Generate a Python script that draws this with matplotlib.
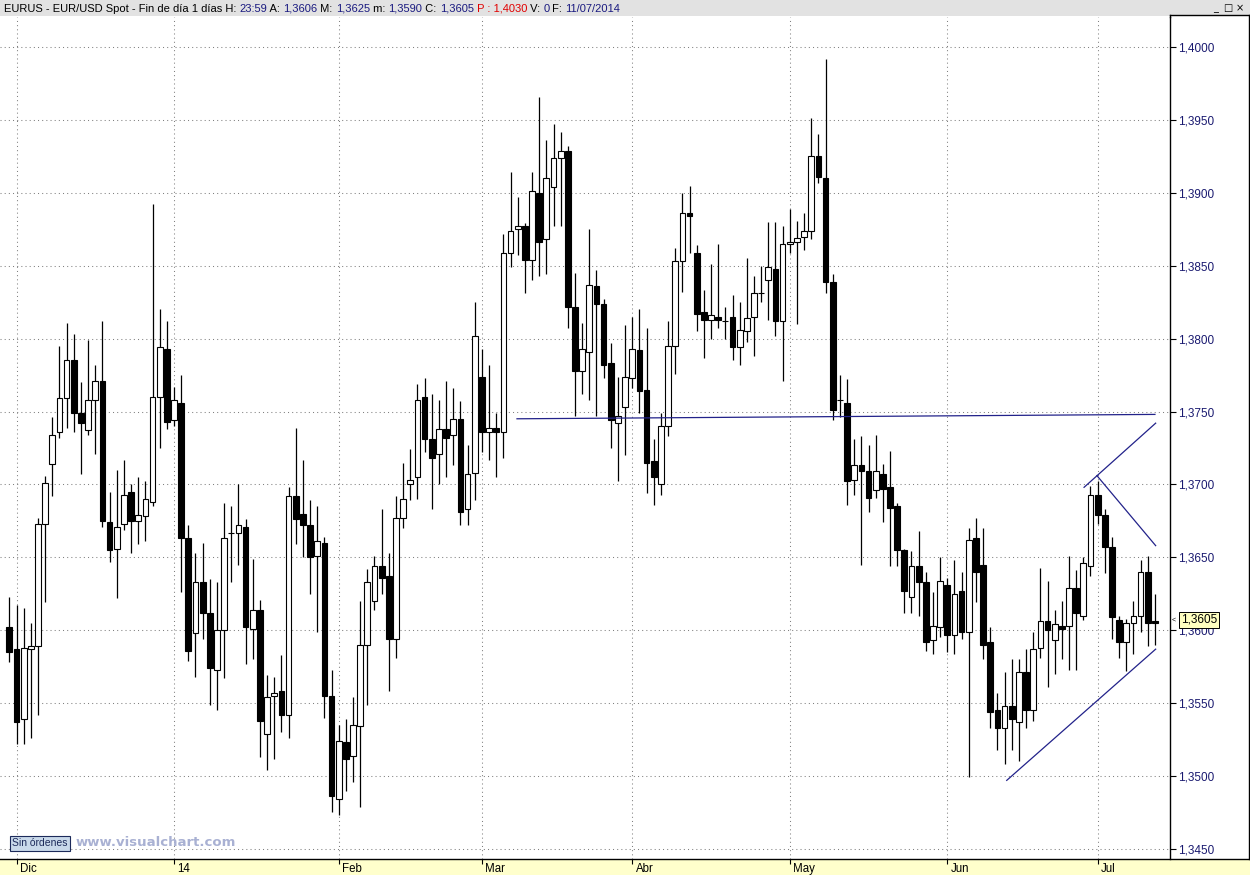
import numpy as np
import pandas as pd
import matplotlib
matplotlib.use('Agg')
import matplotlib.pyplot as plt
import matplotlib.transforms as mtransforms
from matplotlib.patches import Rectangle
from matplotlib.lines import Line2D

plt.rcParams['font.family'] = ['Liberation Sans', 'DejaVu Sans']

# ─────────────────────────────────────────────
# DATA  (EUR/USD daily, 29-Nov-2013 .. 11-Jul-2014)
# ─────────────────────────────────────────────
dates = pd.bdate_range('2013-11-29', '2014-07-11')

opens = [1.3602,
    1.3587, 1.3539, 1.3587, 1.3589, 1.3673, 1.3714, 1.3736, 1.3759, 1.3785, 1.3749,
    1.3737, 1.3758, 1.3771, 1.3674, 1.3656, 1.3673, 1.3695, 1.3675, 1.3678, 1.3688,
    1.3760, 1.3793, 1.3744, 1.3756, 1.3663, 1.3598, 1.3633, 1.3612, 1.3573, 1.3600,
    1.3667, 1.3667, 1.3671, 1.3601, 1.3614, 1.3529, 1.3555, 1.3558, 1.3542, 1.3692,
    1.3680, 1.3672, 1.3651, 1.3660, 1.3555, 1.3484, 1.3523, 1.3514, 1.3534, 1.3590,
    1.3620, 1.3644, 1.3637, 1.3594, 1.3677, 1.3700, 1.3705, 1.3760, 1.3731, 1.3721,
    1.3738, 1.3734, 1.3745, 1.3683, 1.3708, 1.3774, 1.3736, 1.3739, 1.3736, 1.3859,
    1.3875, 1.3877, 1.3854, 1.3900, 1.3868, 1.3904, 1.3924, 1.3929, 1.3822, 1.3778,
    1.3791, 1.3836, 1.3824, 1.3783, 1.3742, 1.3753, 1.3773, 1.3792, 1.3765, 1.3716,
    1.3700, 1.3740, 1.3795, 1.3853, 1.3886, 1.3859, 1.3818, 1.3813, 1.3815, 1.3812,
    1.3815, 1.3794, 1.3805, 1.3815, 1.3831, 1.3840, 1.3848, 1.3812, 1.3865, 1.3866,
    1.3870, 1.3874, 1.3925, 1.3910, 1.3839, 1.3758, 1.3756, 1.3703, 1.3713, 1.3709,
    1.3696, 1.3707, 1.3698, 1.3685, 1.3655, 1.3623, 1.3644, 1.3633, 1.3593, 1.3602,
    1.3631, 1.3597, 1.3627, 1.3599, 1.3663, 1.3645, 1.3592, 1.3545, 1.3533, 1.3548,
    1.3537, 1.3571, 1.3545, 1.3588, 1.3606, 1.3593, 1.3603, 1.3603, 1.3629, 1.3610,
    1.3644, 1.3693, 1.3679, 1.3657, 1.3607, 1.3592, 1.3605, 1.3610, 1.3640, 1.3606]

highs = [1.3623,
    1.3617, 1.3615, 1.3605, 1.3677, 1.3706, 1.3746, 1.3795, 1.3811, 1.3803, 1.3770,
    1.3799, 1.3782, 1.3812, 1.3695, 1.3710, 1.3717, 1.3700, 1.3705, 1.3702, 1.3892,
    1.3820, 1.3812, 1.3767, 1.3775, 1.3672, 1.3653, 1.3660, 1.3635, 1.3633, 1.3687,
    1.3685, 1.3700, 1.3676, 1.3649, 1.3621, 1.3569, 1.3568, 1.3583, 1.3698, 1.3739,
    1.3717, 1.3689, 1.3685, 1.3664, 1.3573, 1.3535, 1.3539, 1.3554, 1.3620, 1.3642,
    1.3651, 1.3683, 1.3653, 1.3692, 1.3715, 1.3724, 1.3769, 1.3773, 1.3762, 1.3758,
    1.3771, 1.3766, 1.3757, 1.3727, 1.3825, 1.3793, 1.3782, 1.3749, 1.3872, 1.3914,
    1.3897, 1.3879, 1.3914, 1.3966, 1.3936, 1.3947, 1.3942, 1.3932, 1.3845, 1.3811,
    1.3875, 1.3847, 1.3827, 1.3797, 1.3774, 1.3809, 1.3815, 1.3820, 1.3807, 1.3731,
    1.3749, 1.3812, 1.3862, 1.3900, 1.3905, 1.3864, 1.3833, 1.3851, 1.3865, 1.3822,
    1.3830, 1.3825, 1.3855, 1.3843, 1.3850, 1.3880, 1.3880, 1.3877, 1.3889, 1.3881,
    1.3886, 1.3951, 1.3940, 1.3992, 1.3844, 1.3775, 1.3772, 1.3731, 1.3733, 1.3727,
    1.3734, 1.3714, 1.3723, 1.3687, 1.3656, 1.3654, 1.3668, 1.3640, 1.3626, 1.3650,
    1.3636, 1.3648, 1.3640, 1.3670, 1.3677, 1.3670, 1.3602, 1.3557, 1.3571, 1.3580,
    1.3580, 1.3587, 1.3599, 1.3643, 1.3634, 1.3614, 1.3620, 1.3651, 1.3641, 1.3650,
    1.3699, 1.3702, 1.3683, 1.3664, 1.3610, 1.3608, 1.3620, 1.3648, 1.3651, 1.3625]

lows = [1.3578,
    1.3522, 1.3522, 1.3526, 1.3542, 1.3619, 1.3692, 1.3732, 1.3739, 1.3736, 1.3707,
    1.3734, 1.3721, 1.3671, 1.3647, 1.3622, 1.3669, 1.3653, 1.3659, 1.3661, 1.3685,
    1.3725, 1.3738, 1.3740, 1.3626, 1.3579, 1.3568, 1.3594, 1.3549, 1.3545, 1.3567,
    1.3633, 1.3645, 1.3577, 1.3580, 1.3513, 1.3504, 1.3512, 1.3530, 1.3526, 1.3659,
    1.3650, 1.3625, 1.3599, 1.3540, 1.3475, 1.3473, 1.3490, 1.3496, 1.3479, 1.3549,
    1.3614, 1.3625, 1.3558, 1.3581, 1.3670, 1.3689, 1.3690, 1.3722, 1.3683, 1.3700,
    1.3705, 1.3713, 1.3672, 1.3672, 1.3689, 1.3722, 1.3717, 1.3705, 1.3718, 1.3849,
    1.3857, 1.3831, 1.3840, 1.3843, 1.3844, 1.3877, 1.3877, 1.3807, 1.3747, 1.3762,
    1.3758, 1.3747, 1.3773, 1.3725, 1.3702, 1.3720, 1.3766, 1.3749, 1.3694, 1.3686,
    1.3693, 1.3733, 1.3776, 1.3832, 1.3859, 1.3805, 1.3787, 1.3800, 1.3807, 1.3800,
    1.3785, 1.3782, 1.3798, 1.3788, 1.3825, 1.3813, 1.3802, 1.3771, 1.3859, 1.3810,
    1.3861, 1.3868, 1.3907, 1.3831, 1.3744, 1.3746, 1.3686, 1.3693, 1.3645, 1.3681,
    1.3691, 1.3674, 1.3644, 1.3644, 1.3612, 1.3612, 1.3610, 1.3586, 1.3584, 1.3595,
    1.3585, 1.3584, 1.3594, 1.3499, 1.3619, 1.3580, 1.3533, 1.3518, 1.3508, 1.3518,
    1.3510, 1.3533, 1.3538, 1.3581, 1.3561, 1.3570, 1.3580, 1.3573, 1.3573, 1.3607,
    1.3637, 1.3673, 1.3639, 1.3594, 1.3581, 1.3572, 1.3584, 1.3599, 1.3589, 1.3590]

closes = [1.3585,
    1.3537, 1.3588, 1.3589, 1.3673, 1.3701, 1.3734, 1.3759, 1.3785, 1.3749, 1.3742,
    1.3758, 1.3771, 1.3675, 1.3655, 1.3671, 1.3693, 1.3675, 1.3679, 1.3690, 1.3760,
    1.3794, 1.3743, 1.3758, 1.3663, 1.3586, 1.3633, 1.3612, 1.3574, 1.3600, 1.3663,
    1.3667, 1.3672, 1.3602, 1.3614, 1.3538, 1.3554, 1.3557, 1.3542, 1.3692, 1.3676,
    1.3672, 1.3650, 1.3661, 1.3555, 1.3486, 1.3524, 1.3512, 1.3535, 1.3590, 1.3633,
    1.3644, 1.3636, 1.3594, 1.3677, 1.3690, 1.3703, 1.3758, 1.3731, 1.3718, 1.3738,
    1.3732, 1.3745, 1.3681, 1.3707, 1.3802, 1.3736, 1.3739, 1.3736, 1.3859, 1.3874,
    1.3877, 1.3854, 1.3901, 1.3866, 1.3910, 1.3924, 1.3929, 1.3822, 1.3778, 1.3793,
    1.3837, 1.3824, 1.3782, 1.3744, 1.3747, 1.3774, 1.3793, 1.3764, 1.3715, 1.3705,
    1.3740, 1.3795, 1.3853, 1.3886, 1.3884, 1.3817, 1.3813, 1.3816, 1.3813, 1.3812,
    1.3794, 1.3806, 1.3814, 1.3831, 1.3831, 1.3849, 1.3812, 1.3865, 1.3866, 1.3869,
    1.3874, 1.3925, 1.3911, 1.3839, 1.3751, 1.3758, 1.3702, 1.3713, 1.3709, 1.3691,
    1.3709, 1.3697, 1.3684, 1.3655, 1.3627, 1.3644, 1.3633, 1.3592, 1.3603, 1.3634,
    1.3597, 1.3625, 1.3599, 1.3662, 1.3640, 1.3590, 1.3544, 1.3533, 1.3548, 1.3539,
    1.3571, 1.3545, 1.3587, 1.3606, 1.3600, 1.3604, 1.3601, 1.3629, 1.3612, 1.3646,
    1.3693, 1.3679, 1.3657, 1.3609, 1.3592, 1.3605, 1.3610, 1.3640, 1.3605, 1.3605]

month_names = {1: '14', 2: 'Feb', 3: 'Mar', 4: 'Abr', 5: 'May', 6: 'Jun',
               7: 'Jul', 12: 'Dic'}

# drawn trend lines (bar index, price)
support_x = [70.9, 160.0]
support_y = [1.3745, 1.3748]
upper_x = [150.1, 160.1]
upper_y = [1.3698, 1.3742]
down_x = [151.9, 160.1]
down_y = [1.3706, 1.3658]
lower_x = [139.3, 160.1]
lower_y = [1.3497, 1.3587]

header = [("EURUS - EUR/USD Spot - Fin de día 1 días H: ", 'black'),
          ("23:59", '#1a1a80'), (" A: ", 'black'), ("1,3606", '#1a1a80'),
          (" M: ", 'black'), ("1,3625", '#1a1a80'), (" m: ", 'black'),
          ("1,3590", '#1a1a80'), (" C: ", 'black'), ("1,3605", '#1a1a80'),
          (" P : 1,4030", '#e00000'), (" V: ", 'black'), ("0", '#1a1a80'),
          (" F: ", 'black'), ("11/07/2014", '#1a1a80')]
last_price = 1.3605

# ─────────────────────────────────────────────
# FIGURE
# ─────────────────────────────────────────────
W, H = 1250, 875
fig = plt.figure(figsize=(W / 100, H / 100), dpi=100)
fig.patch.set_facecolor('white')

ax_top, ax_bot, ax_right = 17, 859, 1170
ax = fig.add_axes([0, (H - ax_bot) / H, ax_right / W, (ax_bot - ax_top) / H])

pos = np.arange(len(dates))
o = np.array(opens); h = np.array(highs); l = np.array(lows); c = np.array(closes)
body_bot = np.minimum(o, c)
body_h = np.abs(c - o)
fill = np.where(c > o, 'white', 'black')

ax.vlines(pos, l, h, color='black', lw=0.9, zorder=2)
ax.bar(pos, body_h, bottom=body_bot, width=0.8, color=fill,
       edgecolor='black', linewidth=0.8, zorder=3)

line_col = '#22228a'
for xs, ys in [(support_x, support_y), (upper_x, upper_y),
               (down_x, down_y), (lower_x, lower_y)]:
    ax.plot(xs, ys, color=line_col, lw=0.9, zorder=4)

# scales: 1.4000 at y=47px, 0.005 per 72.9px
ppu = 72.9 / 0.005
ax.set_ylim(1.4 - (ax_bot - 47) / ppu, 1.4 + (47 - ax_top) / ppu)
ax.set_xlim(-9.34 / 7.16, (ax_right - 9.34) / 7.16)

# y axis on the right
yt = np.arange(1.345, 1.40001, 0.005)
ax.yaxis.tick_right()
ax.set_yticks(yt)
ax.set_yticklabels([f"{v:.4f}".replace('.', ',') for v in yt])
ax.tick_params(axis='y', direction='out', length=4.5, width=0.8, pad=1,
               labelsize=8.5, colors='black')
for lab in ax.get_yticklabels():
    lab.set_color('#1a1a70')

# month ticks
m = dates.month
first = [i for i in range(1, len(dates)) if m[i] != m[i - 1]]
ax.set_xticks(pos[first])
ax.set_xticklabels([month_names[dates[i].month] for i in first], ha='left')
ax.tick_params(axis='x', direction='out', length=3.6, width=0.8, pad=-0.8,
               labelsize=8.3, colors='black')
shift = mtransforms.ScaledTranslation(2.5 / 72, 0, fig.dpi_scale_trans)
for lab in ax.get_xticklabels():
    lab.set_transform(lab.get_transform() + shift)

ax.grid(True, color='#808080', lw=0.75, linestyle=(0, (1, 3)))
ax.set_axisbelow(True)
for s in ['top', 'left', 'bottom']:
    ax.spines[s].set_visible(False)
ax.spines['right'].set_linewidth(1.0)

# last price tag
tr = mtransforms.blended_transform_factory(ax.transAxes, ax.transData)
ax.text(1181 / ax_right, last_price + 0.0002, "1,3605", transform=tr, fontsize=8.5,
        ha='left', va='center', color='black', clip_on=False, zorder=6,
        bbox=dict(boxstyle='square,pad=0.15', fc='#ffffc0', ec='black', lw=0.7))
ax.text(1172 / ax_right, last_price + 0.0002, "<", transform=tr, fontsize=5,
        ha='left', va='center', color='black', clip_on=False, zorder=6)

# ─────────────────────────────────────────────
# FRAME DECORATION
# ─────────────────────────────────────────────
def fy(y):
    return 1 - y / H

fig.patches.append(Rectangle((0, 0), 1, fy(ax_bot), transform=fig.transFigure,
                             fc='#ffffcc', ec='none', zorder=-5))
fig.patches.append(Rectangle((0, fy(16)), 1, 16 / H, transform=fig.transFigure,
                             fc='#e2e2e2', ec='none', zorder=-5))
fig.lines.append(Line2D([0, 1], [fy(ax_bot)] * 2, transform=fig.transFigure,
                        color='black', lw=1.0))
fig.lines.append(Line2D([1249 / W] * 2, [fy(15), fy(ax_bot)],
                        transform=fig.transFigure, color='black', lw=1.0))
fig.lines.append(Line2D([ax_right / W, 1249 / W], [fy(15)] * 2,
                        transform=fig.transFigure, color='black', lw=1.0))
fig.lines.append(Line2D([ax_right / W] * 2, [fy(15), fy(ax_top)],
                        transform=fig.transFigure, color='black', lw=1.0))

# header text, pieces chained left to right
hax = fig.add_axes([0, fy(16), 1, 16 / H])
hax.axis('off')
prev = hax.text(4 / W, 0.45, header[0][0], color=header[0][1], fontsize=8,
                ha='left', va='center', transform=hax.transAxes)
for txt, col in header[1:]:
    prev = hax.annotate(txt, xy=(1, 0), xycoords=prev, ha='left', va='bottom',
                        color=col, fontsize=8)

for x, sym in [(1216, '_'), (1228, '□'), (1240, '×')]:
    fig.text(x / W, fy(8), sym, fontsize=7, ha='center', va='center',
             family='DejaVu Sans', color='black')

fig.text(12 / W, fy(843.5), "Sin órdenes", fontsize=7.5, color='#1c2a5a',
         ha='left', va='center',
         bbox=dict(boxstyle='square,pad=0.2', fc='#c9d9ea', ec='#1c2a5a', lw=0.8))
fig.text(76 / W, fy(842), "www.visualchart.com", fontsize=9.5, weight='bold',
         family='DejaVu Sans', color='#a9b1d3', ha='left', va='center')

fig.savefig('out.png', dpi=100)
print("saved out.png")
